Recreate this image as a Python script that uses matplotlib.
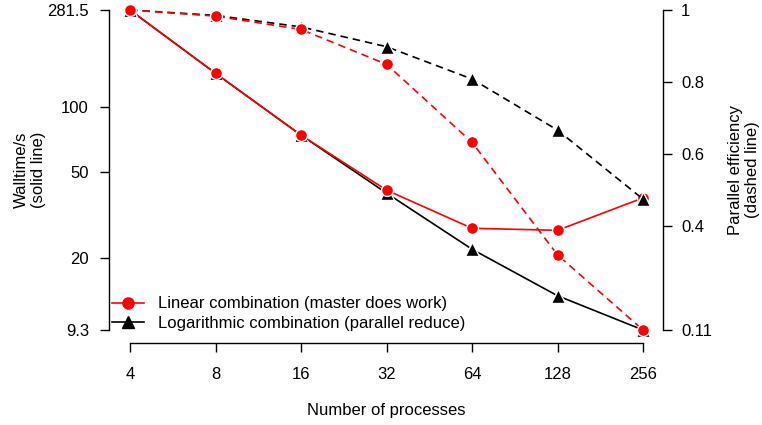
import numpy as np
import matplotlib.pyplot as plt
from matplotlib.ticker import FixedLocator, NullLocator, FixedFormatter

plt.rcParams['font.family'] = ['Liberation Sans', 'DejaVu Sans']
plt.rcParams['font.size'] = 12

procs = [4, 8, 16, 32, 64, 128, 256]
wall_linear = [281.5, 143.4, 74.2, 41.3, 27.5, 26.9, 38.0]
wall_log = [281.5, 143.4, 74.2, 40.0, 22.0, 13.4, 9.3]
eff_linear = [1.0, 0.983, 0.946, 0.849, 0.632, 0.319, 0.11]
eff_log = [1.0, 0.985, 0.953, 0.898, 0.808, 0.666, 0.474]

left_ticks = [9.3, 20, 50, 100, 281.5]
left_labels = ['9.3', '20', '50', '100', '281.5']
right_ticks = [0.11, 0.4, 0.6, 0.8, 1]
right_labels = ['0.11', '0.4', '0.6', '0.8', '1']

fig = plt.figure(figsize=(7.62, 4.25), dpi=100)
ax = fig.add_axes([130/762, 1-330/425, (643-130)/762, 320/425])
ax2 = ax.twinx()

# pixels -> points
px = 72 / 100

ms_c = 8.6
ms_t = 9.6
lw = 1.2
dash = (0, (4.5, 3))
ax.plot(procs, wall_log, color='black', lw=lw, marker='^', ms=ms_t,
        mec='white', mew=1.0, clip_on=False, zorder=3)
ax.plot(procs, wall_linear, color='red', lw=lw, marker='o', ms=ms_c,
        mec='white', mew=1.0, clip_on=False, zorder=4)
ax2.plot(procs, eff_log, color='black', lw=lw, ls=dash, marker='^',
         ms=ms_t, mec='white', mew=1.0, clip_on=False, zorder=3)
ax2.plot(procs, eff_linear, color='red', lw=lw, ls=dash, marker='o',
         ms=ms_c, mec='white', mew=1.0, clip_on=False, zorder=4)

ax.set_xscale('log', base=2)
ax.set_yscale('log')
ax.set_xlim(4, 256)
ax.set_ylim(9.3, 281.5)
ax2.set_ylim(0.11, 1)

ax.xaxis.set_major_locator(FixedLocator(procs))
ax.xaxis.set_major_formatter(FixedFormatter([str(p) for p in procs]))
ax.xaxis.set_minor_locator(NullLocator())
ax.yaxis.set_major_locator(FixedLocator(left_ticks))
ax.yaxis.set_major_formatter(FixedFormatter(left_labels))
ax.yaxis.set_minor_locator(NullLocator())
ax2.yaxis.set_major_locator(FixedLocator(right_ticks))
ax2.yaxis.set_major_formatter(FixedFormatter(right_labels))

for a in (ax, ax2):
    a.spines['top'].set_visible(False)
    for s in a.spines.values():
        s.set_linewidth(1.0)
ax.spines['right'].set_visible(False)
ax2.spines['left'].set_visible(False)
ax2.spines['bottom'].set_visible(False)
ax.spines['left'].set_position(('outward', 21 * px))
ax.spines['bottom'].set_position(('outward', 13 * px))
ax2.spines['right'].set_position(('outward', 20 * px))

ax.tick_params(axis='x', length=9 * px, width=1.0, pad=15 * px)
ax.tick_params(axis='y', length=9 * px, width=1.0, pad=11 * px)
ax2.tick_params(axis='y', length=9 * px, width=1.0, pad=9 * px)

ax.set_xlabel('Number of processes', labelpad=21 * px)
fig.text(30/762, 1-170/425, 'Walltime/s\n(solid line)', rotation=90,
         ha='center', va='center', multialignment='center')
fig.text(744/762, 1-170/425, 'Parallel efficiency\n(dashed line)', rotation=90,
         ha='center', va='center', multialignment='center')

h1, = ax.plot([], [], color='red', lw=lw, marker='o', ms=ms_c - 0.6)
h2, = ax.plot([], [], color='black', lw=lw, marker='^', ms=ms_t - 0.8)
fig.legend([h1, h2], ['Linear combination (master does work)',
                      'Logarithmic combination (parallel reduce)'],
           loc='lower left', bbox_to_anchor=(112/762, 1-331/425),
           frameon=False, handlelength=1.9, handletextpad=0.85,
           labelspacing=0.28, borderpad=0, borderaxespad=0)

fig.savefig('out.png', dpi=100)
